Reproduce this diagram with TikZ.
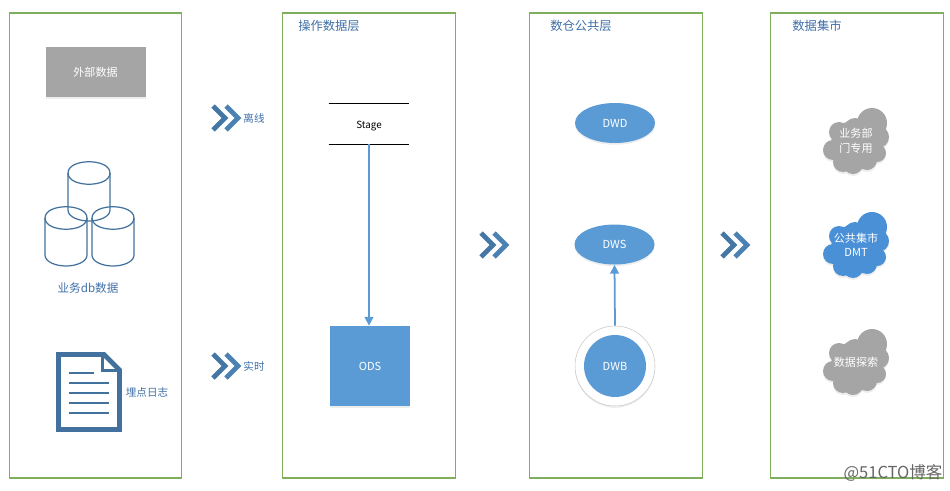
\documentclass[tikz,border=0pt]{standalone}
\usepackage{fontspec}
\setmainfont{Noto Sans CJK SC}
\usepackage{xcolor}
\usetikzlibrary{arrows.meta,shapes.geometric,shadows}
\definecolor{panelgreen}{HTML}{7FAE5C}
\definecolor{fillblue}{HTML}{5B9BD5}
\definecolor{cloudblue}{HTML}{4A90D6}
\definecolor{fillgray}{HTML}{A5A5A5}
\definecolor{inkblue}{HTML}{41719C}
\definecolor{textblue}{HTML}{3F6FA8}
\tikzset{
  panel/.style={draw=panelgreen,line width=0.6pt,minimum width=3.45cm,minimum height=9.3cm},
  title/.style={text=textblue,font=\fontsize{7}{8}\selectfont},
  lbl/.style={text=textblue,font=\fontsize{6}{7}\selectfont},
  inner/.style={text=white,font=\fontsize{6.3}{8.2}\selectfont,align=center},
  softsh/.style={general shadow={fill=black!7,shadow yshift=-1pt}},
  oval/.style={ellipse,fill=fillblue,minimum width=1.6cm,minimum height=0.8cm,inner sep=0pt,softsh},
  arr/.style={-{Triangle[length=5pt,width=5pt]},line width=1pt,color=fillblue},
  pics/chevrons/.style={code={
    \draw[inkblue!85!fillblue,line width=2.8pt] (-12,-12) -- (0,0) -- (-12,12);
    \draw[fillblue!40!inkblue,line width=2.8pt] (1,-12) -- (13,0) -- (1,12);
  }},
  pics/can/.style={code={
    \draw[inkblue,line width=0.7pt] (-21,0) -- (-21,37) .. controls (-21,44) and (-10,48) .. (0,48)
      .. controls (10,48) and (21,44) .. (21,37) -- (21,0);
    \draw[inkblue,line width=0.7pt] (-21,0) .. controls (-21,-15) and (21,-15) .. (21,0)
      .. controls (21,15) and (-21,15) .. (-21,0);
  }},
  pics/puff/.style={code={
    \foreach \x/\y/\r in {16/-18/15,-17/-9/10,-1/-12/11,22/-4/11,-23/9/10,
                          -13/21/10,-3/23/10,11/19/10,21/12/9,0/4/25}{
      \fill[black!7] (\x,\y+2) circle (\r*0.2mm);
    }
    \foreach \x/\y/\r in {16/-18/15,-17/-9/10,-1/-12/11,22/-4/11,-23/9/10,
                          -13/21/10,-3/23/10,11/19/10,21/12/9,0/4/25}{
      \fill[#1] (\x,\y) circle (\r*0.2mm);
    }
  }},
}
\begin{document}
\begin{tikzpicture}[x=0.2mm,y=-0.2mm]
\useasboundingbox (0,0) rectangle (950,490);
% Panels
\foreach \name/\x in {src/95.5,ods/369,dw/616,dm/857}{
  \node[panel] (panel\name) at (\x,245.5) {};
}
\node[title] (titleods) at (329,25.5) {操作数据层};
\node[title] (titledw) at (581,25.5) {数仓公共层};
\node[title] (titledm) at (817,25.5) {数据集市};
% Sources
\node[fill=fillgray,minimum width=2cm,minimum height=1cm,softsh,inner,inner sep=0pt] (ext) at (95.5,72) {外部数据};
\pic at (89,173) {can};
\pic at (66,218) {can};
\pic at (113,218) {can};
\node[lbl,font=\fontsize{6.6}{8}\selectfont] (dbtxt) at (88,288) {业务db数据};
\draw[inkblue,line width=2.8pt] (58.5,354.5) -- (104,354.5) -- (119.5,370)
  -- (119.5,429.5) -- (58.5,429.5) -- cycle;
\draw[inkblue,line width=1.3pt] (102.5,355) -- (102.5,370.5) -- (119,370.5);
\foreach \y/\xend in {373/94,383/109,393/109,403/109,413/109}{
  \draw[inkblue,line width=1.4pt] (69,\y) -- (\xend,\y);
}
\node[lbl] (logtxt) at (147,392) {埋点日志};
% Chevrons
\pic at (225,118) {chevrons};
\pic at (225,366) {chevrons};
\pic at (493,245) {chevrons};
\pic at (734,245) {chevrons};
\node[lbl] (offline) at (254,118) {离线};
\node[lbl] (realtime) at (254,366) {实时};
% ODS layer
\node[minimum width=1.6cm,minimum height=0.8cm,inner sep=0pt,text height=5.4pt,text depth=0.5pt,font=\fontsize{5.6}{6}\selectfont] (stage) at (369,124) {Stage};
\draw[line width=0.5pt] (stage.north west) -- (stage.north east);
\draw[line width=0.5pt] (stage.south west) -- (stage.south east);
\node[fill=fillblue,minimum size=1.6cm,inner sep=0pt,softsh,inner] (ods) at (370,366) {ODS};
\draw[arr] (stage.south) -- (stage.south |- ods.north);
% DW layer
\node[oval,inner] (dwd) at (615,123) {DWD};
\node[oval,inner] (dws) at (614.5,244.5) {DWS};
\node[circle,draw=black!22,fill=white,line width=0.3pt,minimum size=1.6cm,inner sep=0pt,softsh] (dwbring) at (615,366) {};
\node[circle,fill=fillblue,minimum size=1.24cm,inner sep=0pt,inner] (dwb) at (615,366) {DWB};
\draw[arr] (dwbring.north) -- (dws.south);
% Data marts
\pic at (856,141) {puff=fillgray};
\pic at (856,245) {puff=cloudblue};
\pic at (856,362) {puff=fillgray};
\node[inner] (bizdm) at (856,141) {业务部\\门专用};
\node[inner] (dmt) at (856,245) {公共集市\\DMT};
\node[inner] (explore) at (856,362) {数据探索};
% Watermark
\node[text=black!60,font=\fontsize{9.4}{10}\selectfont] (mark) at (893,473) {@51CTO博客};
\end{tikzpicture}
\end{document}
